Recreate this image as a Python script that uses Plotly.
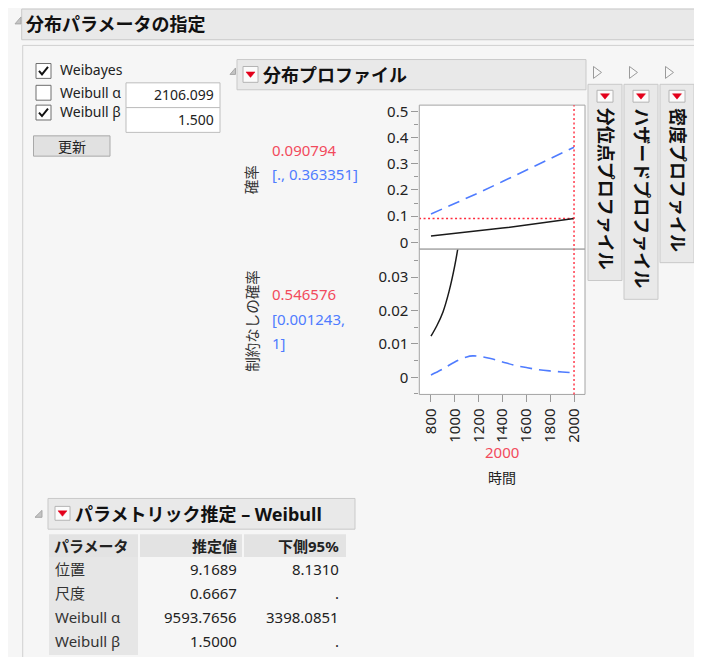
import plotly.graph_objects as go

# ---------------- data ----------------
time_grid = [800, 1000, 1200, 1400, 1600, 1800, 2000]
prob_est = [0.0238, 0.0331, 0.0433, 0.0542, 0.0658, 0.0781, 0.0908]
prob_upper = [0.108, 0.148, 0.189, 0.232, 0.276, 0.320, 0.363]

time_uncond_est = [800, 850, 900, 950, 1000, 1050]
uncond_est = [0.0123, 0.0155, 0.0195, 0.0255, 0.0335, 0.0440]

time_uncond_low = [800, 900, 1000, 1100, 1150, 1200, 1300, 1400, 1500, 1600, 1700, 1800, 1900, 2000]
uncond_lower = [0.0007, 0.0025, 0.0046, 0.0061, 0.0064, 0.0063, 0.0056, 0.0046, 0.0036, 0.0029,
                0.0023, 0.0019, 0.0016, 0.0013]

current_time = 2000
current_prob = 0.090794
prob_text = "0.090794"
prob_ci_text = "[., 0.363351]"
uncond_text = "0.546576"
uncond_ci_lines = ["[0.001243,", "1]"]

x_ticks = [800, 1000, 1200, 1400, 1600, 1800, 2000]
y1_ticks = [0, 0.1, 0.2, 0.3, 0.4, 0.5]
y1_ticktext = ["0", "0.1", "0.2", "0.3", "0.4", "0.5"]
y2_ticks = [0, 0.01, 0.02, 0.03]
y2_ticktext = ["0", "0.01", "0.02", "0.03"]

weibayes_checked = True
alpha_checked = False
beta_checked = True
alpha_input = "2106.099"
beta_input = "1.500"

col_headers = ["パラメータ", "推定値", "下側95%"]
param_names = ["位置", "尺度", "Weibull α", "Weibull β"]
estimates = ["9.1689", "0.6667", "9593.7656", "1.5000"]
lower95 = ["8.1310", ".", "3398.0851", "."]

side_panels = ["分位点プロファイル", "ハザードプロファイル", "密度プロファイル"]

# ---------------- helpers ----------------
OFF = 8            # page body margin of the html document
FW, FH = 694, 649  # figure size so that the page fits the 702x665 window
FONT = "Noto Sans, Noto Sans CJK JP, sans-serif"
TXT = "#222222"
RED = "#f24a5c"
BLUE = "#4f7cff"
HDR = "#e9e9e9"
HDR_LINE = "#c9c9c9"


def X(p):
    return (p - OFF) / FW


def Y(p):
    return 1 - (p - OFF) / FH


shapes = []
anns = []


def rect(x0, y0, x1, y1, fill="rgba(0,0,0,0)", line="#c8c8c8", w=1, layer="below"):
    shapes.append(dict(type="rect", xref="paper", yref="paper",
                       x0=X(x0), x1=X(x1), y0=Y(y1), y1=Y(y0),
                       fillcolor=fill, line=dict(color=line, width=w), layer=layer))


def path(pts, fill="rgba(0,0,0,0)", line="#999", w=1, closed=True, layer="above"):
    d = "M " + " L ".join(f"{X(a):.5f},{Y(b):.5f}" for a, b in pts) + (" Z" if closed else "")
    shapes.append(dict(type="path", xref="paper", yref="paper", path=d,
                       fillcolor=fill, line=dict(color=line, width=w), layer=layer))


def ann(x, y, text, size=15, color=TXT, xa="left", ya="middle", angle=0):
    anns.append(dict(x=X(x), y=Y(y), xref="paper", yref="paper", text=text, showarrow=False,
                     xanchor=xa, yanchor=ya, textangle=angle,
                     font=dict(size=size, color=color, family=FONT)))


def open_tri(x0, y0, x1, y1):
    path([(x1, y0), (x1, y1), (x0, y1)], fill="#c4c4c4", line="#a8a8a8")


def closed_tri(cx, cy):
    path([(cx - 4, cy - 6), (cx + 4, cy), (cx - 4, cy + 6)], fill="#f8f8f8", line="#9a9a9a")


def red_icon(x0, y0, x1, y1):
    rect(x0, y0, x1, y1, fill="#fbfbfb", line="#b4b4b4", layer="above")
    cx = (x0 + x1) / 2
    cy = (y0 + y1) / 2
    path([(cx - 4.5, cy - 2.5), (cx + 4.5, cy - 2.5), (cx, cy + 3)], fill="#e3001b", line="#e3001b", w=0.5)


def checkbox(x0, y0, x1, y1, checked):
    rect(x0, y0, x1, y1, fill="#ffffff", line="#6e6e6e", layer="above")
    if checked:
        path([(x0 + 3, y0 + 7.5), (x0 + 6, y0 + 11), (x1 - 3, y0 + 3.5)],
             line="#111111", w=2, closed=False)


# ---------------- top header ----------------
rect(21.7, 5, 720, 36, fill=HDR, line=HDR_LINE)
open_tri(15, 13, 21, 20)
ann(24, 20.5, "<b>分布パラメータの指定</b>", size=18, color="#111")
rect(22.7, 41.7, 720, 720, line="#d0d0d0")

# ---------------- left controls ----------------
checkbox(36, 60, 51, 75, weibayes_checked)
ann(58, 66.5, "Weibayes", size=14)
checkbox(36, 82, 51, 97, alpha_checked)
ann(58, 89, "Weibull α", size=14)
checkbox(36, 102, 51, 117, beta_checked)
ann(58, 108.5, "Weibull β", size=14)
rect(126, 79.5, 220, 104.5, fill="#ffffff", line="#bdbdbd")
rect(126, 104.5, 220, 129.5, fill="#ffffff", line="#bdbdbd")
ann(216, 91.5, alpha_input, size=14, xa="right")
ann(216, 116.5, beta_input, size=14, xa="right")
rect(33.5, 133, 110, 153.5, fill="#e1e1e1", line="#a9a9a9")
ann(72, 143.5, "更新", size=14, xa="center")

# ---------------- profiler header ----------------
rect(237, 56, 586, 86.5, fill=HDR, line=HDR_LINE)
open_tri(230, 64.5, 235.5, 71)
red_icon(243, 63, 258, 79)
ann(261, 71.5, "<b>分布プロファイル</b>", size=18, color="#111")

# ---------------- side collapsed panels ----------------
panel_geo = [(588, 622, 279), (624, 658, 298), (660, 694, 261)]
for (x0, x1, yb), label in zip(panel_geo, side_panels):
    cx = (x0 + x1) / 2
    closed_tri(x0 + 9.5, 69)
    rect(x0, 81, x1, yb, fill=HDR, line=HDR_LINE)
    red_icon(cx - 8, 87, cx + 8, 99)
    ann(cx + 1, (102 + yb - 8) / 2, f"<b>{label}</b>", size=18, color="#111",
        xa="center", ya="middle", angle=90)

# ---------------- profiler labels ----------------
ann(251.7, 177, "確率", size=14.5, color="#333", xa="center", ya="middle", angle=-90)
ann(251.7, 320, "制約なしの確率", size=14.5, color="#333", xa="center", ya="middle", angle=-90)
ann(270, 147, prob_text, size=15, color=RED)
ann(270, 172, prob_ci_text, size=15, color=BLUE)
ann(270, 293, uncond_text, size=15, color=RED)
ann(270, 317.5, uncond_ci_lines[0], size=15, color=BLUE)
ann(270, 342, uncond_ci_lines[1], size=15, color=BLUE)
ann(502, 452, str(current_time), size=15, color=RED, xa="center")
ann(502, 478, "時間", size=14, color="#222", xa="center")

# plot frames
PL, PR, PT, PM, PB = 419.3, 585, 102, 247.3, 394
rect(PL, PT, PR, PM, line="#a4a4a4", layer="above")
rect(PL, PM, PR, PB, line="#a4a4a4", layer="above")

shapes.append(dict(type="line", xref="x", yref="paper", x0=current_time, x1=current_time,
                   y0=Y(PB), y1=Y(PT), line=dict(color="#ff2b3d", width=1.4, dash="2px,2.5px"),
                   layer="above"))

# ---------------- bottom table ----------------
open_tri(35, 511, 42, 518)
rect(48, 499, 355, 530, fill=HDR, line=HDR_LINE)
red_icon(55, 507, 70, 521)
ann(73, 514.5, "<b>パラメトリック推定 – Weibull</b>", size=18, color="#111")

rect(49, 535, 138, 558, fill="#e3e3e3", line="rgba(0,0,0,0)")
rect(140, 535, 242, 558, fill="#e3e3e3", line="rgba(0,0,0,0)")
rect(244, 535, 346, 558, fill="#e3e3e3", line="rgba(0,0,0,0)")
rect(49, 558, 138, 657, fill="#e6e6e6", line="rgba(0,0,0,0)")
ann(51.5, 546.7, f"<b>{col_headers[0]}</b>", size=15)
ann(239, 546.7, f"<b>{col_headers[1]}</b>", size=15, xa="right")
ann(341, 546.7, f"<b>{col_headers[2]}</b>", size=15, xa="right")
row_ys = [570, 594.5, 619, 643]
for ry, nm, est, lo in zip(row_ys, param_names, estimates, lower95):
    ann(52.5, ry, nm, size=15, color="#333")
    ann(239, ry, est, size=15, xa="right")
    ann(341, ry, lo, size=15, xa="right")

# ---------------- traces ----------------
fig = go.Figure()
fig.add_trace(go.Scatter(x=time_grid, y=prob_upper, mode="lines", xaxis="x2", yaxis="y",
                         line=dict(color=BLUE, width=1.6, dash="12px,7px")))
fig.add_trace(go.Scatter(x=[time_grid[0] - 100, current_time], y=[current_prob, current_prob],
                         mode="lines", xaxis="x2", yaxis="y",
                         line=dict(color="#ff2b3d", width=1.4, dash="2px,2.5px")))
fig.add_trace(go.Scatter(x=time_grid, y=prob_est, mode="lines", xaxis="x2", yaxis="y",
                         line=dict(color="#1a1a1a", width=1.5)))
fig.add_trace(go.Scatter(x=time_uncond_low, y=uncond_lower, mode="lines", xaxis="x", yaxis="y2",
                         line=dict(color=BLUE, width=1.6, dash="12px,7px"), line_shape="spline"))
fig.add_trace(go.Scatter(x=time_uncond_est, y=uncond_est, mode="lines", xaxis="x", yaxis="y2",
                         line=dict(color="#1a1a1a", width=1.5), line_shape="spline"))

tickfont = dict(size=15, color="#222", family=FONT)
xdom = [X(PL), X(PR)]
fig.update_layout(
    width=FW, height=FH, margin=dict(l=0, r=0, t=0, b=0),
    paper_bgcolor="#f6f6f6", plot_bgcolor="#ffffff",
    showlegend=False, font=dict(family=FONT, color=TXT),
    xaxis=dict(domain=xdom, range=[702, 2092], anchor="y2", tickvals=x_ticks,
               tickangle=-90, ticks="outside", ticklen=7, tickcolor="#9a9a9a",
               showgrid=False, zeroline=False, showline=False, tickfont=tickfont),
    xaxis2=dict(domain=xdom, range=[702, 2092], anchor="y", matches="x",
                showticklabels=False, ticks="", showgrid=False, zeroline=False, showline=False),
    yaxis=dict(domain=[Y(PM), Y(PT)], range=[-0.026, 0.524], anchor="x2",
               tickvals=y1_ticks, ticktext=y1_ticktext, ticks="outside", ticklen=7,
               tickcolor="#9a9a9a", showgrid=False, zeroline=False, showline=False,
               tickfont=tickfont,
               minor=dict(ticks="outside", ticklen=4, dtick=0.05, tick0=0, tickcolor="#9a9a9a",
                          showgrid=False)),
    yaxis2=dict(domain=[Y(PB), Y(PM)], range=[-0.00514, 0.0384], anchor="x",
                tickvals=y2_ticks, ticktext=y2_ticktext, ticks="outside", ticklen=7,
                tickcolor="#9a9a9a", showgrid=False, zeroline=False, showline=False,
                tickfont=tickfont,
                minor=dict(ticks="outside", ticklen=4, dtick=0.005, tick0=0, tickcolor="#9a9a9a",
                           showgrid=False)),
    shapes=shapes, annotations=anns,
)

fig.write_html("out.html", config=dict(displayModeBar=False))
